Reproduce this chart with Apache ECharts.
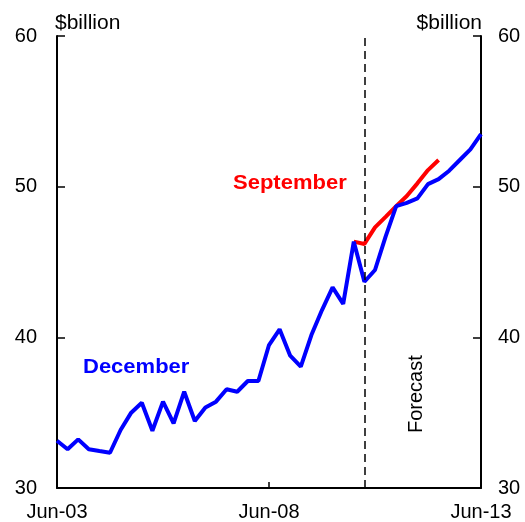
<!DOCTYPE html>
<html>
<head>
<meta charset="utf-8">
<script src="https://cdn.jsdelivr.net/npm/echarts@6/dist/echarts.min.js"></script>
<style>
html,body{margin:0;padding:0;background:#fff;}
#chart{width:525px;height:522px;}
</style>
</head>
<body>
<div id="chart"></div>
<script>
var categories = ['Jun-03','Sep-03','Dec-03','Mar-04','Jun-04','Sep-04','Dec-04','Mar-05','Jun-05','Sep-05','Dec-05','Mar-06','Jun-06','Sep-06','Dec-06','Mar-07','Jun-07','Sep-07','Dec-07','Mar-08','Jun-08','Sep-08','Dec-08','Mar-09','Jun-09','Sep-09','Dec-09','Mar-10','Jun-10','Sep-10','Dec-10','Mar-11','Jun-11','Sep-11','Dec-11','Mar-12','Jun-12','Sep-12','Dec-12','Mar-13','Jun-13'];
var december = [33.14,32.57,33.23,32.57,32.45,32.34,33.85,35.0,35.66,33.8,35.73,34.29,36.39,34.45,35.35,35.73,36.55,36.39,37.1,37.1,39.49,40.53,38.78,38.05,40.15,41.81,43.32,42.22,46.35,43.69,44.47,46.68,48.71,48.93,49.22,50.17,50.5,51.06,51.77,52.48,53.49];
var september = [null,null,null,null,null,null,null,null,null,null,null,null,null,null,null,null,null,null,null,null,null,null,null,null,null,null,null,null,46.35,46.2,47.3,48.0,48.71,49.38,50.22,51.1,51.77,null,null,null,null];
var forecastStart = 'Sep-10';
var yTicks = {min:30, max:60, interval:10};

var chart = echarts.init(document.getElementById('chart'), null, {renderer:'canvas'});
var font = 'Liberation Sans, Arial, sans-serif';
function yAxis(pos){
  var left = pos==='left';
  return {
    type:'value', position:pos, min:yTicks.min, max:yTicks.max, interval:yTicks.interval,
    name:'$billion', nameLocation:'end', nameGap:2,
    nameTextStyle:{color:'#000', fontSize:21, fontFamily:font, align: left?'left':'right', verticalAlign:'bottom', padding:left?[0,0,0,-2]:[0,-1,0,0]},
    axisLine:{show:true, lineStyle:{color:'#000', width:2}},
    axisTick:{show:true, inside:true, length:8, lineStyle:{color:'#000', width:1.5}},
    axisLabel:{color:'#000', fontSize:20, fontFamily:font, margin:left?20:17, padding:[3,0,0,0]},
    splitLine:{show:false}
  };
}
var option = {
  animation:false,
  backgroundColor:'#fff',
  grid:{left:57, right:44, top:36, bottom:34, containLabel:false},
  xAxis:{
    type:'category', data:categories, boundaryGap:false,
    axisLine:{show:true, lineStyle:{color:'#000', width:2}},
    axisTick:{show:true, inside:true, length:6, interval:function(i){return i%20===0;}, lineStyle:{color:'#000', width:1.5}},
    axisLabel:{color:'#000', fontSize:20, fontFamily:font, margin:14, interval:function(i){return i%20===0;}, showMaxLabel:true, showMinLabel:true},
    splitLine:{show:false}
  },
  yAxis:[yAxis('left'), yAxis('right')],
  series:[
    {
      name:'September', type:'line', data:september, yAxisIndex:0, symbol:'none',
      lineStyle:{color:'#ff0000', width:4}, itemStyle:{color:'#ff0000'}, z:2
    },
    {
      name:'December', type:'line', data:december, yAxisIndex:0, symbol:'none',
      lineStyle:{color:'#0000ff', width:4}, itemStyle:{color:'#0000ff'}, z:3,
      markLine:{
        silent:true, symbol:['none','none'], label:{show:false},
        lineStyle:{color:'#000', type:[8,5], width:1.5},
        data:[{xAxis:forecastStart}]
      }
    }
  ],
  graphic:[
    {type:'text', x:233, y:173, scaleX:1.1, style:{text:'September', fill:'#ff0000', font:'bold 20px '+font}},
    {type:'text', x:83, y:357, scaleX:1.1, style:{text:'December', fill:'#0000ff', font:'bold 20px '+font}},
    {type:'text', x:406, y:433, rotation:Math.PI/2, style:{text:'Forecast', fill:'#000', font:'20px '+font}}
  ]
};
chart.setOption(option);
</script>
</body>
</html>
